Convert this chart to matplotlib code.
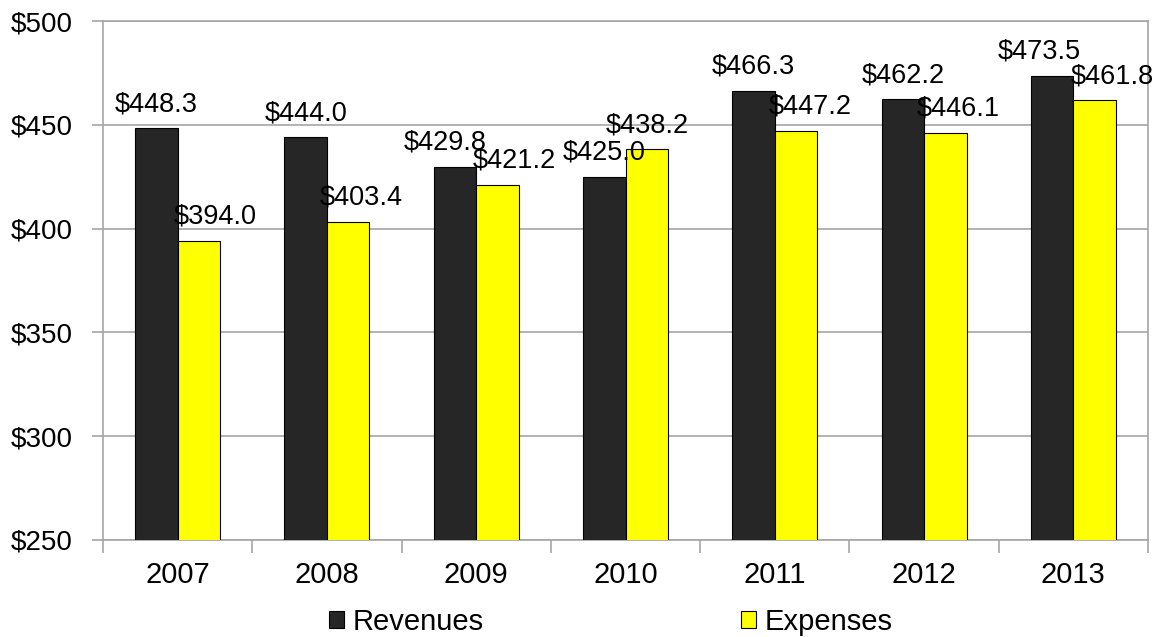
import matplotlib.pyplot as plt
import numpy as np

plt.rcParams['font.family'] = ['Liberation Sans', 'DejaVu Sans']

years = ['2007', '2008', '2009', '2010', '2011', '2012', '2013']
revenues = [448.3, 444.0, 429.8, 425.0, 466.3, 462.2, 473.5]
expenses = [394.0, 403.4, 421.2, 438.2, 447.2, 446.1, 461.8]

# horizontal nudges (points) for the value labels so they don't collide
rev_nudge = [0, 0, -7, 0, 0, 0, -9]
exp_nudge = [12, 9, 12, 0, 10, 9, 13]

fig = plt.figure(figsize=(11.59, 6.37), dpi=100)
ax = fig.add_axes([0.0889, 0.1523, 0.9016, 0.8147])

x = np.arange(len(years))
w = 0.285
grid_c = '#a6a6a6'

ax.bar(x - w / 2, revenues, w, color='#262626', edgecolor='black', linewidth=0.8,
       label='Revenues', zorder=3)
ax.bar(x + w / 2, expenses, w, color='#ffff00', edgecolor='black', linewidth=0.8,
       label='Expenses', zorder=3)

for i in range(len(years)):
    ax.annotate(f'${revenues[i]:.1f}', (x[i] - w / 2, revenues[i]),
                xytext=(rev_nudge[i], 8), textcoords='offset points',
                ha='center', va='bottom', fontsize=19.5, zorder=4)
    ax.annotate(f'${expenses[i]:.1f}', (x[i] + w / 2, expenses[i]),
                xytext=(exp_nudge[i], 8), textcoords='offset points',
                ha='center', va='bottom', fontsize=19.5, zorder=4)

ax.set_xlim(-0.5, len(years) - 0.5)
ax.set_ylim(250, 500)
ax.set_yticks(range(250, 501, 50))
ax.set_yticklabels([f'${v}' for v in range(250, 501, 50)])
ax.yaxis.grid(True, color=grid_c, linewidth=1.2, zorder=0)

ax.set_xticks(x)
ax.set_xticklabels(years)
ax.set_xticks(np.arange(-0.5, len(years)), minor=True)
ax.tick_params(axis='x', which='major', length=0, pad=15, labelsize=21)
ax.tick_params(axis='x', which='minor', length=9, width=1.2, color=grid_c)
ax.tick_params(axis='y', length=8, width=1.2, color=grid_c, pad=14, labelsize=20)

for s in ax.spines.values():
    s.set_color(grid_c)
    s.set_linewidth(1.2)

fig.legend(loc='center', bbox_to_anchor=(0.527, 0.024), ncol=2, frameon=False,
           fontsize=21, handlelength=0.52, handleheight=0.52, handletextpad=0.3,
           columnspacing=8.8)

fig.savefig('out.png', dpi=100)
